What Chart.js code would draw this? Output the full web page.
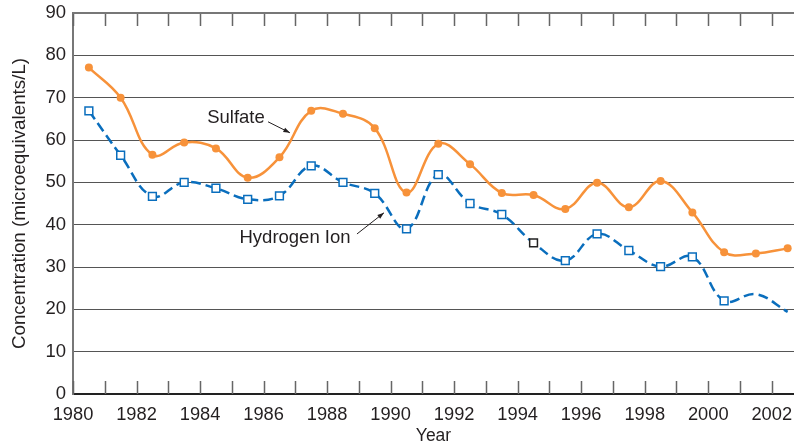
<!DOCTYPE html>
<html>
<head>
<meta charset="utf-8">
<script src="https://cdn.jsdelivr.net/npm/chart.js@4.4.1/dist/chart.umd.min.js"></script>
<style>
    html, body { margin: 0; padding: 0; background: #fff; }
</style>
</head>
<body>
<canvas id="chart" width="794" height="447"></canvas>
<script>
// Данные (точки стоят в середине года)
const years = [1980.5, 1981.5, 1982.5, 1983.5, 1984.5, 1985.5, 1986.5, 1987.5, 1988.5, 1989.5,
    1990.5, 1991.5, 1992.5, 1993.5, 1994.5, 1995.5, 1996.5, 1997.5, 1998.5, 1999.5,
    2000.5, 2001.5, 2002.5];
const sulfate = [77.1, 70.0, 56.5, 59.4, 58.0, 51.1, 55.9, 66.9, 66.2, 62.8,
    47.6, 59.1, 54.3, 47.5, 47.0, 43.7, 49.9, 44.1, 50.3, 42.9,
    33.5, 33.2, 34.4];
const hydrogen = [66.9, 56.4, 46.7, 50.0, 48.6, 46.0, 46.8, 53.9, 50.0, 47.4,
    39.0, 51.8, 45.0, 42.4, 35.7, 31.5, 37.8, 33.9, 30.1, 32.4,
    22.0, 23.6, 19.4];
const yTicks = [0, 10, 20, 30, 40, 50, 60, 70, 80, 90];
const xLabels = [1980, 1982, 1984, 1986, 1988, 1990, 1992, 1994, 1996, 1998, 2000, 2002];

// Подписи со стрелками: [текст, x, y, стрелка от x, от y, до x, до y]
const notes = [
    ['Sulfate', 1985.13, 65.2, 1986.14, 64.3, 1986.83, 61.7],
    ['Hydrogen Ion', 1986.99, 36.9, 1988.94, 37.8, 1989.79, 42.8]
];

const ORANGE = '#f7923a';
const BLUE = '#0a6ebd';
const TEXT = '#231f20';
const FONT = "'Liberation Sans', Arial, sans-serif";

const toPoints = (vals) => vals.map((v, i) => ({ x: years[i], y: v }));

// Рамка сверху и внутренние засечки по годам
const frame = {
    id: 'frame',
    beforeDatasetsDraw(chart) {
        const { ctx, chartArea: a, scales: { x } } = chart;
        ctx.save();
        ctx.strokeStyle = '#666';
        ctx.lineWidth = 1.5;
        for (let yr = 1980; yr <= 2002; yr++) {
            const px = Math.round(x.getPixelForValue(yr)) + 0.5;
            ctx.beginPath();
            ctx.moveTo(px, a.top);
            ctx.lineTo(px, a.top + 13);
            ctx.moveTo(px, a.bottom);
            ctx.lineTo(px, a.bottom - 13);
            ctx.stroke();
        }
        ctx.strokeStyle = '#777';
        ctx.lineWidth = 2;
        ctx.beginPath();
        ctx.moveTo(a.left, a.top);
        ctx.lineTo(a.right, a.top);
        ctx.stroke();
        ctx.restore();
    },
    afterDatasetsDraw(chart) {
        const { ctx, scales: { x, y } } = chart;
        ctx.save();
        ctx.font = `18.5px ${FONT}`;
        ctx.fillStyle = TEXT;
        ctx.strokeStyle = TEXT;
        ctx.textAlign = 'center';
        ctx.textBaseline = 'middle';
        notes.forEach(([text, tx, ty, ax, ay, bx, by]) => {
            ctx.fillText(text, x.getPixelForValue(tx), y.getPixelForValue(ty));
            const x1 = x.getPixelForValue(ax), y1 = y.getPixelForValue(ay);
            const x2 = x.getPixelForValue(bx), y2 = y.getPixelForValue(by);
            const ang = Math.atan2(y2 - y1, x2 - x1);
            ctx.lineWidth = 1;
            ctx.beginPath();
            ctx.moveTo(x1, y1);
            ctx.lineTo(x2, y2);
            ctx.stroke();
            ctx.beginPath();
            ctx.moveTo(x2, y2);
            ctx.lineTo(x2 - 7 * Math.cos(ang - 0.35), y2 - 7 * Math.sin(ang - 0.35));
            ctx.lineTo(x2 - 7 * Math.cos(ang + 0.35), y2 - 7 * Math.sin(ang + 0.35));
            ctx.closePath();
            ctx.fill();
        });
        ctx.restore();
    }
};

new Chart(document.getElementById('chart'), {
    type: 'line',
    data: {
        datasets: [{
            label: 'Sulfate',
            data: toPoints(sulfate),
            borderColor: ORANGE,
            backgroundColor: ORANGE,
            borderWidth: 2.5,
            tension: 0.4,
            pointRadius: 4,
            pointBorderWidth: 0,
            pointBackgroundColor: ORANGE
        }, {
            label: 'Hydrogen Ion',
            data: toPoints(hydrogen),
            borderColor: BLUE,
            backgroundColor: '#fff',
            borderWidth: 2.5,
            borderDash: [10, 5],
            tension: 0.4,
            pointStyle: 'rect',
            pointRadius: hydrogen.map((v, i) => i >= 21 ? 0 : 5.5),
            pointBorderWidth: 1.5,
            pointBorderColor: years.map(yr => yr === 1994.5 ? '#222' : BLUE),
            pointBackgroundColor: '#fff'
        }]
    },
    options: {
        responsive: false,
        animation: false,
        devicePixelRatio: 1,
        layout: {
            autoPadding: false,
            padding: { top: 13, right: 0, left: 0, bottom: 0 }
        },
        plugins: {
            legend: { display: false },
            tooltip: { enabled: false }
        },
        scales: {
            x: {
                type: 'linear',
                min: 1980,
                max: 2002.7,
                bounds: 'data',
                afterFit: (s) => {
                    s.height = 53;
                    s.paddingLeft = 0;
                    s.paddingRight = 0;
                },
                border: { color: '#222', width: 2 },
                grid: { display: false, drawTicks: false },
                ticks: {
                    stepSize: 1,
                    includeBounds: false,
                    autoSkip: false,
                    maxRotation: 0,
                    padding: 10,
                    color: TEXT,
                    font: { family: FONT, size: 18.3 },
                    callback: (v) => xLabels.includes(v) ? String(v) : ''
                },
                title: {
                    display: true,
                    text: 'Year',
                    color: TEXT,
                    font: { family: FONT, size: 17.5 },
                    padding: { top: 0, bottom: 0 }
                }
            },
            y: {
                min: yTicks[0],
                max: yTicks[yTicks.length - 1],
                afterFit: (s) => {
                    s.width = 73;
                    s.paddingTop = 0;
                    s.paddingBottom = 0;
                },
                afterBuildTicks: (s) => { s.ticks = yTicks.map(v => ({ value: v })); },
                border: { color: '#777', width: 2 },
                grid: { color: '#555', lineWidth: 1, drawTicks: false },
                ticks: {
                    padding: 7,
                    color: TEXT,
                    font: { family: FONT, size: 18.5 }
                },
                title: {
                    display: true,
                    text: 'Concentration (microequivalents/L)',
                    color: TEXT,
                    font: { family: FONT, size: 18.8 },
                    padding: { top: 9, bottom: 0 }
                }
            }
        }
    },
    plugins: [frame]
});
</script>
</body>
</html>
